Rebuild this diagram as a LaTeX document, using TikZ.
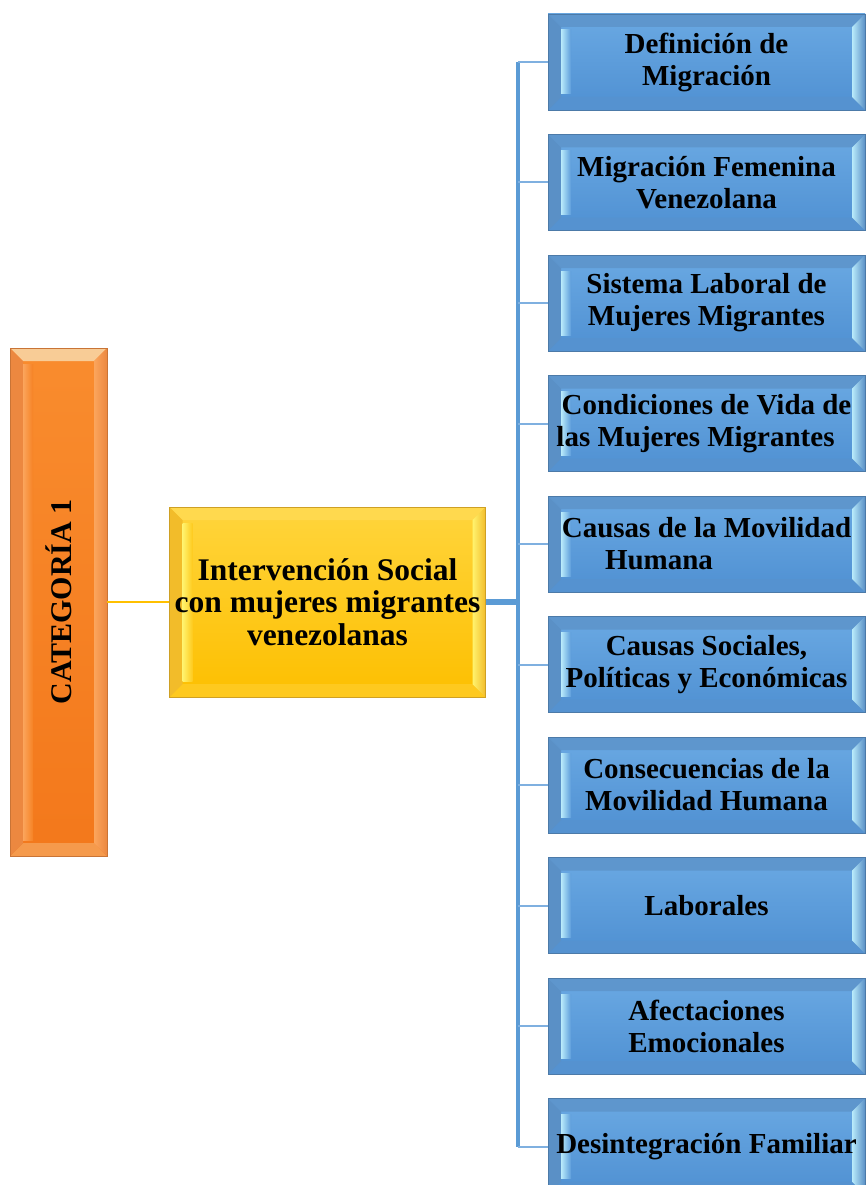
\documentclass[tikz,border=0pt]{standalone}
\usepackage{graphicx}
\usepackage{fontspec}
\setmainfont{Liberation Serif}
\usetikzlibrary{calc,positioning}

\definecolor{catTop}{HTML}{F98C2E}
\definecolor{catBot}{HTML}{F3781B}
\definecolor{catSide}{HTML}{EC8840}
\definecolor{catBevel}{HTML}{F8CC96}
\definecolor{catGlint}{HTML}{FBA55C}
\definecolor{intTop}{HTML}{FFD53C}
\definecolor{intBot}{HTML}{FDBF00}
\definecolor{intSide}{HTML}{F2BC2A}
\definecolor{intBevel}{HTML}{FFD94E}
\definecolor{intGlint}{HTML}{FFF36E}
\definecolor{subTop}{HTML}{6AA9E3}
\definecolor{subBot}{HTML}{4F90D2}
\definecolor{subSide}{HTML}{5A90C6}
\definecolor{subBevel}{HTML}{5E96CD}
\definecolor{subGlint}{HTML}{B9EBFB}
\definecolor{linkBlue}{HTML}{5B9BD5}
\definecolor{linkLight}{HTML}{7FB0E0}
\definecolor{linkGold}{HTML}{FFC000}

\tikzset{
  panel/.style n args={5}{% top, bottom, side, top bevel, glint
    rectangle, inner sep=0pt, align=center,
    top color=#1, bottom color=#2, draw=#3!85!black, line width=.5pt,
    path picture={
      \path (path picture bounding box.north west) coordinate (pnw)
            (path picture bounding box.north east) coordinate (pne)
            (path picture bounding box.south west) coordinate (psw)
            (path picture bounding box.south east) coordinate (pse);
      \fill[#4] (pnw) -- (pne) -- ($(pne)+(-13pt,-13pt)$) -- ($(pnw)+(13pt,-13pt)$) -- cycle;
      \fill[#4!40!#2] (psw) -- (pse) -- ($(pse)+(-13pt,13pt)$) -- ($(psw)+(13pt,13pt)$) -- cycle;
      \fill[#3] (pnw) -- ($(pnw)+(13pt,-13pt)$) -- ($(psw)+(13pt,13pt)$) -- (psw) -- cycle;
      \shade[left color=#5, right color=#3] (pne) -- ($(pne)+(-13pt,-13pt)$) -- ($(pse)+(-13pt,13pt)$) -- (pse) -- cycle;
      \shade[left color=#5, right color=#1!50!#2] ($(pnw)+(13pt,-16pt)$) rectangle ($(psw)+(23pt,16pt)$);
    }
  },
  catbox/.style={panel={catTop}{catBot}{catSide}{catBevel}{catGlint},
    minimum width=97pt, minimum height=508pt,
    font=\bfseries\fontsize{30}{32}\selectfont},
  intbox/.style={panel={intTop}{intBot}{intSide}{intBevel}{intGlint},
    minimum width=316pt, minimum height=190pt,
    font=\bfseries\fontsize{31.5}{32.5}\selectfont},
  subbox/.style={panel={subTop}{subBot}{subSide}{subBevel}{subGlint},
    minimum width=317pt, minimum height=96pt,
    font=\bfseries\fontsize{29}{32}\selectfont},
  catlink/.style={linkGold, line width=2pt},
  stem/.style={linkBlue, line width=5.5pt},
  trunk/.style={linkBlue, line width=3.5pt},
  twig/.style={linkLight, line width=2pt}
}

\begin{document}
\begin{tikzpicture}[x=1pt,y=-1pt]
\path[use as bounding box] (0,0) rectangle (866,1185);
\clip (0,0) rectangle (866,1185);

% categoria y subcategoria
\node[catbox] (cat) at (58.5,602) {\rotatebox{90}{CATEGORÍA 1}};
\node[intbox] (interv) at (327.5,602) {Intervención Social\\con mujeres migrantes\\venezolanas};

% indicadores
\foreach \txt [count=\i] in {
  {Definición de\\Migración},
  {Migración Femenina\\Venezolana},
  {Sistema Laboral de\\Mujeres Migrantes},
  {Condiciones de Vida de\\las Mujeres Migrantes\hspace*{22pt}},
  {Causas de la Movilidad\\Humana\hspace*{95pt}},
  {Causas Sociales,\\Políticas y Económicas},
  {Consecuencias de la\\Movilidad Humana},
  {Laborales},
  {Afectaciones\\Emocionales},
  {Desintegración Familiar}}
{
  \node[subbox] (b\i) at (706.5,{62+120.5*(\i-1)}) {\txt};
}

% conectores
\coordinate (tk) at (518,602);
\draw[catlink] (cat.east) -- (interv.west);
\draw[trunk] (tk |- b1.west) -- (tk |- b10.west);
\foreach \i in {1,...,10}
  \draw[twig] (tk |- b\i.west) -- (b\i.west);
\draw[stem] (interv.east) -- (tk);
\end{tikzpicture}
\end{document}
